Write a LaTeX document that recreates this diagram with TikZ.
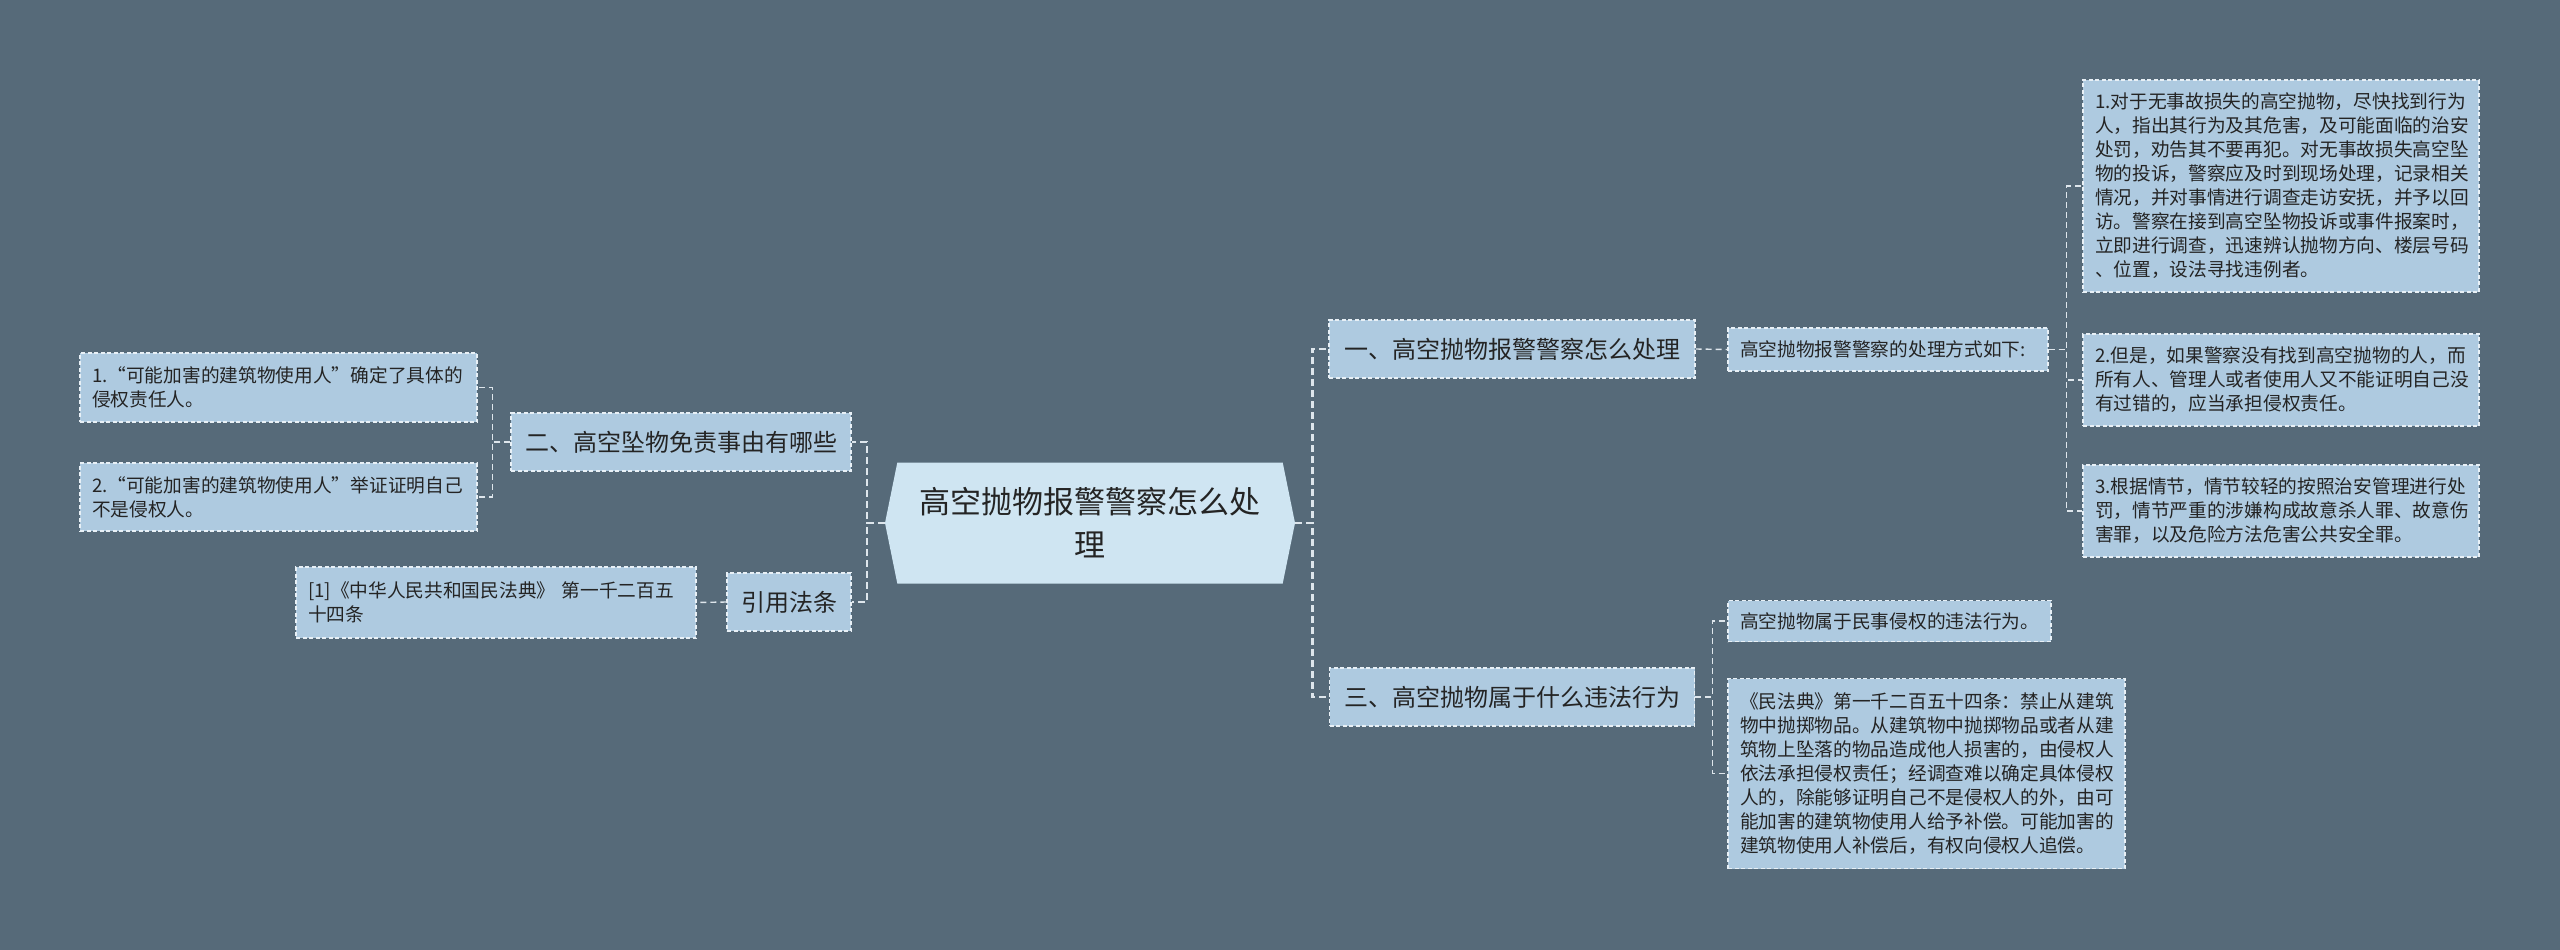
\documentclass[tikz,border=0pt]{standalone}
\usepackage{fontspec}
\newfontfamily\cjk{Noto Sans CJK SC}
\usetikzlibrary{shapes.symbols}
\definecolor{bgcol}{RGB}{86,106,121}
\definecolor{boxcol}{RGB}{174,202,224}
\definecolor{rootcol}{RGB}{207,229,242}
\definecolor{txtcol}{RGB}{36,36,36}
\definecolor{edgecol}{RGB}{232,240,246}
\definecolor{linecol}{RGB}{222,230,236}
\tikzset{
  root/.style={
    shape = signal,
    signal to = west and east,
    signal pointer angle = 157,
    fill = rootcol,
    text = txtcol,
    font = \cjk\fontsize{31}{43}\selectfont,
    align = center,
    minimum width = 410pt,
    minimum height = 121pt,
    inner sep = 0pt
  },
  branch/.style={
    draw = edgecol,
    line width = 1.4pt,
    dash pattern = on 4pt off 2.5pt,
    fill = boxcol,
    text = txtcol,
    font = \cjk\fontsize{24}{28}\selectfont,
    minimum width = #1,
    minimum height = 58pt,
    inner sep = 0pt
  },
  leaf/.style={
    draw = edgecol,
    line width = 1.4pt,
    dash pattern = on 4pt off 2.5pt,
    fill = boxcol,
    text = txtcol,
    font = \cjk\fontsize{18.7}{24}\selectfont,
    align = left,
    text width = #1,
    inner xsep = 12pt,
    inner ysep = 0pt
  },
}
\tikzset{
  trunk/.style={
    draw = linecol,
    line width = 2.6pt,
    dash pattern = on 7pt off 4pt
  },
  twig/.style={
    draw = linecol,
    line width = 1.4pt,
    dash pattern = on 6pt off 4pt
  },
}
\begin{document}
\begin{tikzpicture}[x=1pt,y=-1pt]
  \fill[bgcol] (0,0) rectangle (2560,950);
  \useasboundingbox (0,0) rectangle (2560,950);
  \node[root] (main) at (1090,523) {高空抛物报警警察怎么处\\理};
  % right side
  \node[branch=366pt] (b1) at (1512,349) {一、高空抛物报警警察怎么处理};
  \node[leaf=296pt, minimum height=43pt] (b1c) at (1888,349.5) {高空抛物报警警察的处理方式如下:};
  \node[leaf=372pt, minimum height=212pt] (l1) at (2281,186) {1.对于无事故损失的高空抛物，尽快找到行为\\人，指出其行为及其危害，及可能面临的治安\\处罚，劝告其不要再犯。对无事故损失高空坠\\物的投诉，警察应及时到现场处理，记录相关\\情况，并对事情进行调查走访安抚，并予以回\\访。警察在接到高空坠物投诉或事件报案时，\\立即进行调查，迅速辨认抛物方向、楼层号码\\、位置，设法寻找违例者。};
  \node[leaf=372pt, minimum height=92pt] (l2) at (2281,380) {2.但是，如果警察没有找到高空抛物的人，而\\所有人、管理人或者使用人又不能证明自己没\\有过错的，应当承担侵权责任。};
  \node[leaf=372pt, minimum height=92pt] (l3) at (2281,511) {3.根据情节，情节较轻的按照治安管理进行处\\罚，情节严重的涉嫌构成故意杀人罪、故意伤\\害罪，以及危险方法危害公共安全罪。};
  \node[branch=365pt] (b3) at (1512,697) {三、高空抛物属于什么违法行为};
  \node[leaf=299pt, minimum height=41pt] (c3a) at (1889.5,621) {高空抛物属于民事侵权的违法行为。};
  \node[leaf=373pt, minimum height=190pt] (c3b) at (1926.5,773.5) {《民法典》第一千二百五十四条：禁止从建筑\\物中抛掷物品。从建筑物中抛掷物品或者从建\\筑物上坠落的物品造成他人损害的，由侵权人\\依法承担侵权责任；经调查难以确定具体侵权\\人的，除能够证明自己不是侵权人的外，由可\\能加害的建筑物使用人给予补偿。可能加害的\\建筑物使用人补偿后，有权向侵权人追偿。};
  % left side
  \node[branch=340pt] (b2) at (681,442) {二、高空坠物免责事由有哪些};
  \node[leaf=373pt, minimum height=69pt] (l2a) at (278.5,387.5) {1.“可能加害的建筑物使用人”确定了具体的\\侵权责任人。};
  \node[leaf=373pt, minimum height=68pt] (l2b) at (278.5,497) {2.“可能加害的建筑物使用人”举证证明自己\\不是侵权人。};
  \node[branch=124pt] (cite) at (789,602) {引用法条};
  \node[leaf=376pt, minimum height=71pt] (citec) at (496,602.5) {[1]《中华人民共和国民法典》 第一千二百五\\十四条};
  % connectors
  \foreach \n in {b1,b3}
    \draw[trunk] (main.east) -- ([xshift=17pt]main.east) |- (\n.west);
  \foreach \n in {b2,cite}
    \draw[trunk] (main.west) -- ([xshift=-18pt]main.west) |- (\n.east);
  \draw[twig] (b1.east) -- (b1c.west);
  \foreach \n in {l1,l2,l3}
    \draw[twig] (b1c.east) -- ([xshift=18pt]b1c.east) |- (\n.west);
  \foreach \n in {c3a,c3b}
    \draw[twig] (b3.east) -- ([xshift=17pt]b3.east) |- (\n.west);
  \foreach \n in {l2a,l2b}
    \draw[twig] (b2.west) -- ([xshift=-18pt]b2.west) |- (\n.east);
  \draw[twig] (cite.west) -- (citec.east);
\end{tikzpicture}
\end{document}
